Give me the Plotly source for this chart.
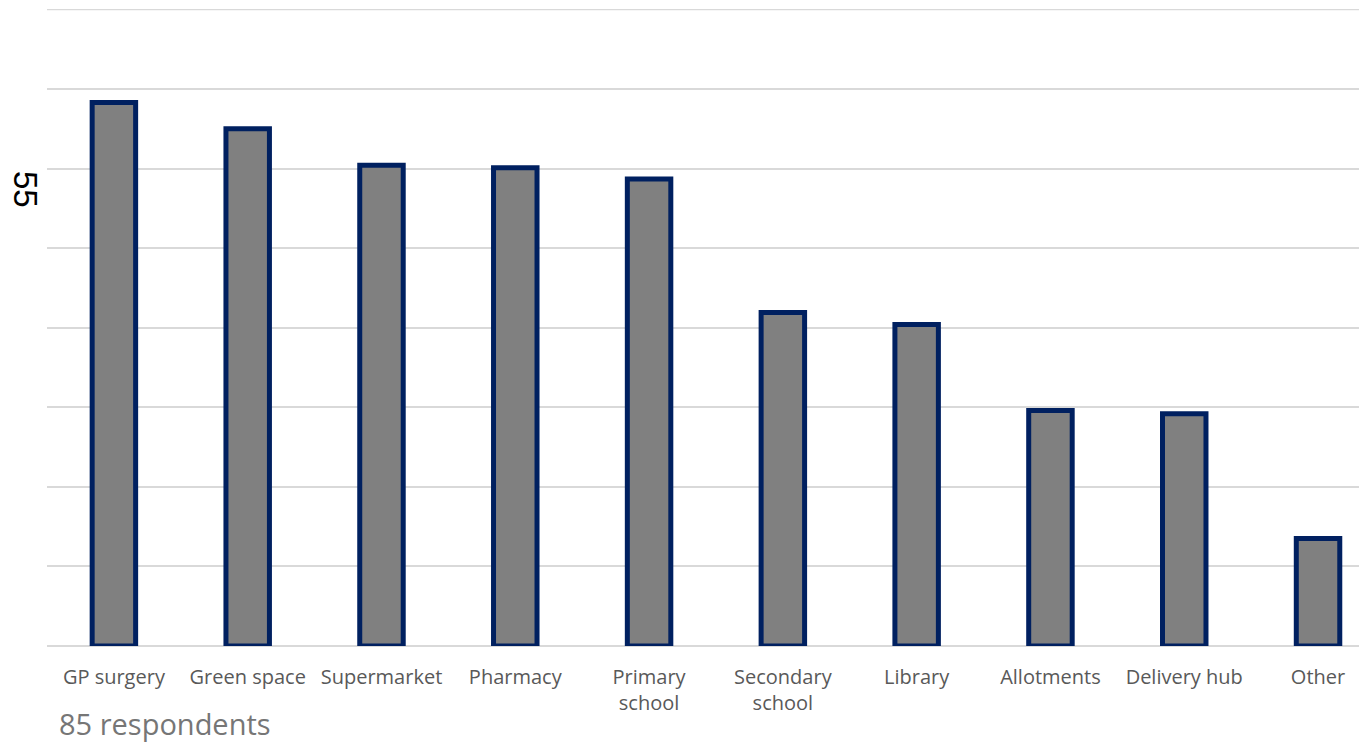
import plotly.graph_objects as go

categories = ["GP surgery", "Green space", "Supermarket", "Pharmacy", "Primary<br>school",
              "Secondary<br>school", "Library", "Allotments", "Delivery hub", "Other"]
values = [68.3, 65.0, 60.4, 60.1, 58.7, 41.9, 40.4, 29.6, 29.2, 13.5]
y_title = "55"
footnote = "85 respondents"

fig = go.Figure(go.Bar(
    x=list(range(len(categories))),
    y=values,
    width=0.325,
    marker=dict(color="#808080", line=dict(color="#002060", width=5)),
    hoverinfo="skip",
))

fig.update_layout(
    width=1359, height=735,
    margin=dict(l=39, r=0, t=1, b=97),
    plot_bgcolor="white", paper_bgcolor="white",
    showlegend=False,
    font=dict(family="Open Sans, sans-serif", color="#595959"),
    xaxis=dict(
        tickmode="array", tickvals=list(range(len(categories))), ticktext=categories,
        range=[-0.5, 9.366], showgrid=False, showline=False, zeroline=False,
        tickfont=dict(size=20, color="#595959"), ticks="", ticklabelstandoff=17,
    ),
    yaxis=dict(
        range=[0, 80.05], tickvals=[10, 20, 30, 40, 50, 60, 70, 80], showticklabels=False,
        gridcolor="#d9d9d9", gridwidth=1.5,
        zeroline=True, zerolinecolor="#d9d9d9", zerolinewidth=1.5, showline=False,
    ),
    shapes=[dict(type="line", xref="paper", x0=0, x1=1, yref="y", y0=80, y1=80,
                 line=dict(color="#d9d9d9", width=1.5), layer="below")],
    annotations=[
        dict(text=y_title, textangle=90, xref="paper", yref="paper", x=-0.0167, y=0.716,
             xanchor="center", yanchor="middle", showarrow=False,
             font=dict(family="Liberation Sans, Arial", size=33, color="black")),
        dict(text=footnote, xref="paper", yref="paper", x=0.0076, y=-0.1217,
             xanchor="left", yanchor="middle", showarrow=False,
             font=dict(family="Open Sans, sans-serif", size=29, color="#767676")),
    ],
)

fig.write_html("out.html")
